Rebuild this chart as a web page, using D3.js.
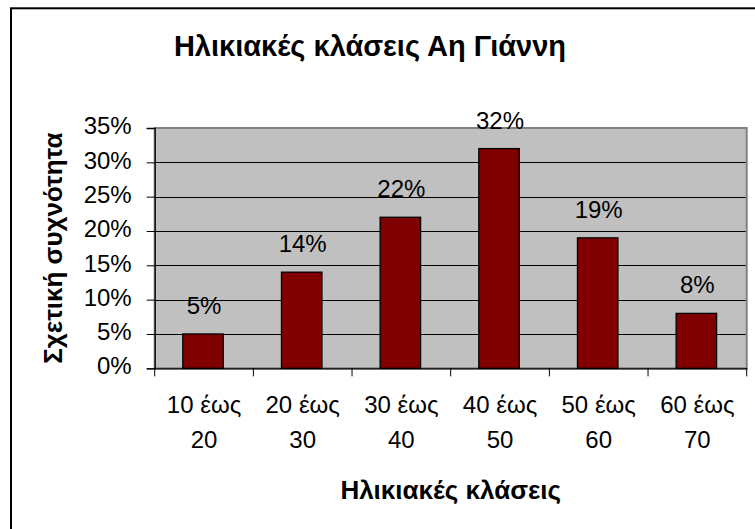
<!DOCTYPE html>
<html>
<head>
<meta charset="utf-8">
<script src="https://cdn.jsdelivr.net/npm/d3@7"></script>
<style>
  body { margin: 0; background: #fff; }
  svg { display: block; }
</style>
</head>
<body>
<svg id="chart"></svg>
<script>
const categories = [["10 έως", "20"], ["20 έως", "30"], ["30 έως", "40"], ["40 έως", "50"], ["50 έως", "60"], ["60 έως", "70"]];
const values = [0.05, 0.14, 0.22, 0.32, 0.19, 0.08];
const yTicks = [0, 0.05, 0.10, 0.15, 0.20, 0.25, 0.30, 0.35];
const chartTitle = "Ηλικιακές κλάσεις Αη Γιάννη";
const xTitle = "Ηλικιακές κλάσεις";
const yTitle = "Σχετική συχνότητα";

const W = 755, H = 529;
const FONT = "'Liberation Sans', Arial, sans-serif";

const svg = d3.select("#chart")
  .attr("width", W)
  .attr("height", H)
  .style("font-family", FONT);

// outer chart border (right/bottom run off the picture)
svg.append("rect")
  .attr("x", 11).attr("y", 8.3)
  .attr("width", 800).attr("height", 600)
  .attr("fill", "#fff")
  .attr("stroke", "#000")
  .attr("stroke-width", 2);

const plot = { left: 154.7, right: 746.7, top: 128, bottom: 368.3 };

const x = d3.scaleBand()
  .domain(d3.range(categories.length))
  .range([plot.left, plot.right])
  .paddingInner(0)
  .paddingOuter(0);

const y = d3.scaleLinear()
  .domain([0, 0.35])
  .range([plot.bottom, plot.top]);

// plot area
svg.append("rect")
  .attr("x", plot.left).attr("y", plot.top)
  .attr("width", plot.right - plot.left)
  .attr("height", plot.bottom - plot.top)
  .attr("fill", "#c0c0c0")
  .attr("stroke", "#808080")
  .attr("stroke-width", 2);

// gridlines
svg.append("g")
  .selectAll("line")
  .data(yTicks.filter(d => d > 0 && d < 0.35))
  .join("line")
  .attr("x1", plot.left).attr("x2", plot.right - 1)
  .attr("y1", d => Math.round(y(d)) + 0.5)
  .attr("y2", d => Math.round(y(d)) + 0.5)
  .attr("stroke", "#000")
  .attr("stroke-width", 1);

// bars
const barW = x.bandwidth() * 0.41;
svg.append("g")
  .selectAll("rect")
  .data(values)
  .join("rect")
  .attr("x", (d, i) => x(i) + (x.bandwidth() - barW) / 2 - 1)
  .attr("y", d => y(d))
  .attr("width", barW)
  .attr("height", d => plot.bottom - y(d))
  .attr("fill", "#800000")
  .attr("stroke", "#000")
  .attr("stroke-width", 1.3);

// y axis
const yAxis = d3.axisLeft(y)
  .tickValues(yTicks)
  .tickFormat(d3.format(".0%"))
  .tickSize(8)
  .tickPadding(15);

const yg = svg.append("g")
  .attr("transform", `translate(${plot.left},0)`)
  .call(yAxis);
yg.select(".domain").attr("stroke", "#000").attr("stroke-width", 1.3);
yg.selectAll(".tick line").attr("stroke", "#000");
yg.selectAll(".tick text")
  .attr("fill", "#000")
  .attr("y", -2)
  .style("font-family", FONT)
  .style("font-size", "24px");

// x axis
const xAxis = d3.axisBottom(x)
  .tickValues([])
  .tickSizeOuter(0);
const xg = svg.append("g")
  .attr("transform", `translate(0,${plot.bottom})`)
  .call(xAxis);
xg.select(".domain").attr("stroke", "#000").attr("stroke-width", 1.3);

// category boundary ticks
xg.selectAll("line.cat")
  .data(d3.range(categories.length + 1))
  .join("line")
  .attr("class", "cat")
  .attr("x1", i => i < categories.length ? x(i) : x(i - 1) + x.bandwidth())
  .attr("x2", i => i < categories.length ? x(i) : x(i - 1) + x.bandwidth())
  .attr("y1", 0).attr("y2", 8)
  .attr("stroke", "#000");

// category labels (two lines)
const catText = svg.append("g")
  .selectAll("text")
  .data(categories)
  .join("text")
  .attr("text-anchor", "middle")
  .attr("font-size", "24px")
  .attr("fill", "#000")
  .attr("transform", (d, i) => `translate(${x(i) + x.bandwidth() / 2},0)`);
catText.selectAll("tspan")
  .data(d => d)
  .join("tspan")
  .attr("x", 0)
  .attr("y", (d, j) => 413 + j * 34.5)
  .text(d => d);

// data labels
svg.append("g")
  .selectAll("text")
  .data(values)
  .join("text")
  .attr("x", (d, i) => x(i) + x.bandwidth() / 2)
  .attr("y", d => y(d) - 20)
  .attr("text-anchor", "middle")
  .attr("font-size", "24px")
  .attr("fill", "#000")
  .text(d => d3.format(".0%")(d));

// titles
svg.append("text")
  .attr("x", 370).attr("y", 56)
  .attr("text-anchor", "middle")
  .attr("font-size", "29px")
  .attr("font-weight", "bold")
  .text(chartTitle);

svg.append("text")
  .attr("x", plot.left + (plot.right - plot.left) / 2).attr("y", 499)
  .attr("text-anchor", "middle")
  .attr("font-size", "26px")
  .attr("font-weight", "bold")
  .text(xTitle);

svg.append("text")
  .attr("transform", `translate(62,${(plot.top + plot.bottom) / 2}) rotate(-90)`)
  .attr("text-anchor", "middle")
  .attr("font-size", "26px")
  .attr("font-weight", "bold")
  .text(yTitle);
</script>
</body>
</html>
